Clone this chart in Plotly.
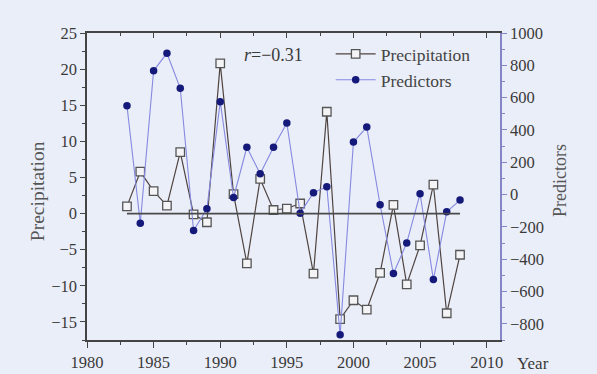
import plotly.graph_objects as go

years = list(range(1983, 2009))
precipitation = [1.0, 5.8, 3.1, 1.1, 8.5, -0.1, -1.2, 20.8, 2.7, -6.9, 4.8, 0.5, 0.7, 1.4,
                 -8.3, 14.1, -14.6, -12.0, -13.3, -8.2, 1.2, -9.8, -4.4, 4.0, -13.8, -5.7]
predictors = [550, -177, 766, 875, 658, -222, -88, 575, -18, 293, 129, 293, 443, -115,
              12, 48, -868, 325, 418, -63, -489, -299, 5, -526, -107, -34]
zero_x = [1983, 2008]
zero_y = [0, 0]
r_text = "<i>r</i>=−0.31"
r_pos = (1994.0, 22.0)

FONT = "Liberation Serif"
BG = "#eaeef8"
P_COL = "#4f4340"
Q_LINE = "#8689e0"
Q_MARK = "#14197a"
R_AX = "#8585c8"
TXT = "#3a3a3a"

fig = go.Figure()
fig.add_trace(go.Scatter(x=zero_x, y=zero_y, mode="lines", xaxis="x2", yaxis="y",
                         line=dict(color="#4a4a4a", width=1.7), showlegend=False, hoverinfo="skip"))
fig.add_trace(go.Scatter(x=years, y=precipitation, mode="lines+markers", name="Precipitation",
                         line=dict(color=P_COL, width=1.2),
                         marker=dict(symbol="square", size=8.5, color="#f4f4f6",
                                     line=dict(color="#555555", width=1.3))))
fig.add_trace(go.Scatter(x=years, y=predictors, mode="lines+markers", name="Predictors",
                         yaxis="y2",
                         line=dict(color=Q_LINE, width=1.1),
                         marker=dict(symbol="circle", size=7.5, color=Q_MARK)))

tick_font = dict(size=16.5, color=TXT)
fig.update_layout(
    width=597, height=374,
    margin=dict(l=87, r=97, t=33, b=34),
    paper_bgcolor=BG, plot_bgcolor=BG,
    font=dict(family=FONT, size=15, color=TXT),
    xaxis=dict(range=[1980, 2011], dtick=5, tick0=1980, showgrid=False, zeroline=False,
               automargin=False,
               showline=True, linecolor="#444444", linewidth=1.5,
               ticks="outside", ticklen=6, tickcolor="#444444",
               minor=dict(dtick=2.5, ticks="outside", ticklen=3, tickcolor="#444444"),
               tickfont=tick_font),
    xaxis2=dict(range=[1980, 2011], overlaying="x", side="top", dtick=5, tick0=1980,
                automargin=False,
                showgrid=False, zeroline=False, showticklabels=False,
                showline=True, linecolor="#444444", linewidth=1.5,
                ticks="inside", ticklen=5, tickcolor="#444444",
                minor=dict(dtick=2.5, ticks="inside", ticklen=3, tickcolor="#444444")),
    yaxis=dict(range=[-17.5, 25], dtick=5, tick0=0, showgrid=False, zeroline=False,
               automargin=False,
               showline=True, linecolor="#444444", linewidth=1.5,
               ticks="outside", ticklen=5, tickcolor="#444444",
               minor=dict(dtick=2.5, ticks="outside", ticklen=3, tickcolor="#444444"),
               tickfont=tick_font),
    yaxis2=dict(range=[-900, 1000], dtick=200, tick0=0, overlaying="y", side="right",
                automargin=False,
                showgrid=False, zeroline=False,
                showline=True, linecolor=R_AX, linewidth=1.5,
                ticks="outside", ticklen=5, tickcolor=R_AX,
                minor=dict(dtick=100, ticks="outside", ticklen=3, tickcolor=R_AX),
                tickfont=tick_font),
    legend=dict(x=0.59, y=0.99, xanchor="left", yanchor="top",
                bgcolor="rgba(0,0,0,0)", font=dict(size=17.5, color="#444444"),
                tracegroupgap=0, itemwidth=40),
    showlegend=True,
)
fig.add_annotation(text=r_text, x=r_pos[0], y=r_pos[1], xref="x", yref="y",
                   showarrow=False, font=dict(size=18, color=TXT), xanchor="center",
                   yanchor="middle")
fig.add_annotation(text="Year", x=1.08, y=-0.075, xref="paper", yref="paper",
                   showarrow=False, font=dict(size=17, color=TXT), xanchor="center",
                   yanchor="middle")
fig.add_annotation(text="Precipitation", x=-0.121, y=0.485, xref="paper", yref="paper",
                   textangle=-90, showarrow=False, font=dict(size=19.5, color="#555555"),
                   xanchor="center", yanchor="middle")
fig.add_annotation(text="Predictors", x=1.145, y=0.521, xref="paper", yref="paper",
                   textangle=-90, showarrow=False, font=dict(size=18, color="#555555"),
                   xanchor="center", yanchor="middle")

page_css = ("document.body.style.margin='0';document.body.style.padding='0';"
            "document.body.style.background='" + BG + "';"
            "document.documentElement.style.overflow='hidden';")
fig.write_html("out.html", post_script=page_css, config={"displayModeBar": False})
